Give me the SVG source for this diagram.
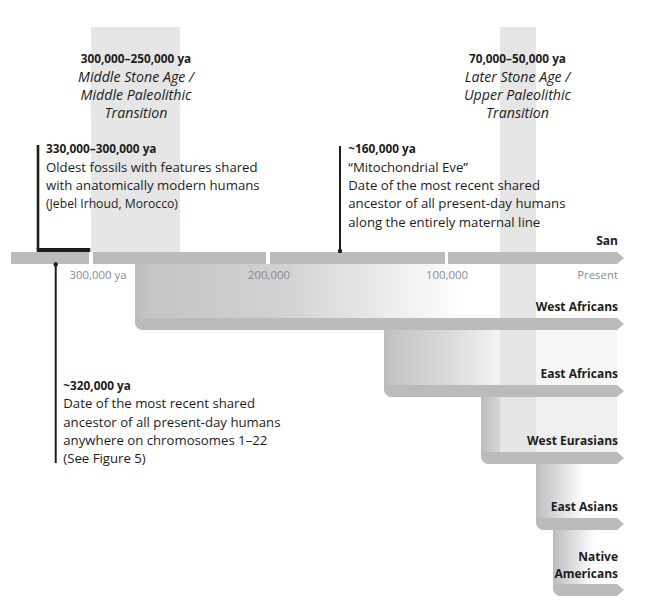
<svg xmlns="http://www.w3.org/2000/svg" width="669" height="610" viewBox="0 0 669 610">
<style>
.t{font-family:"Open Sans","Noto Sans",sans-serif;font-size:13.2px;fill:#1d1d1b}
.b{font-weight:700;font-size:11.8px}
.i{font-style:italic;font-size:14.2px}
.s{font-size:12.2px}
.c{text-anchor:middle}
.lab{font-family:"Open Sans","Noto Sans",sans-serif;font-weight:700;font-size:12px;fill:#1d1d1b;text-anchor:end}
.tick{font-family:"Open Sans","Noto Sans",sans-serif;font-size:11.4px;fill:#8a8a8c}
.bar{fill:#bbbbbd}
.band{fill:#e6e6e7}
.lead{stroke:#1d1d1b;stroke-width:2;fill:none}
.dot{fill:#1d1d1b}
</style>
<defs>
<linearGradient id="gWA" gradientUnits="userSpaceOnUse" x1="135" y1="0" x2="465" y2="0">
<stop offset="0" stop-color="#bcbcbe"/><stop offset="0.04" stop-color="#c4c4c6"/><stop offset="0.45" stop-color="#d2d2d4"/><stop offset="1" stop-color="#ffffff"/>
</linearGradient>
<linearGradient id="gEA" gradientUnits="userSpaceOnUse" x1="384" y1="0" x2="505" y2="0">
<stop offset="0" stop-color="#bcbcbe"/><stop offset="0.08" stop-color="#c6c6c8"/><stop offset="0.5" stop-color="#d8d8da"/><stop offset="1" stop-color="#f6f6f6"/>
</linearGradient>
<linearGradient id="gWE" gradientUnits="userSpaceOnUse" x1="481" y1="0" x2="520" y2="0">
<stop offset="0" stop-color="#bcbcbe"/><stop offset="0.2" stop-color="#c8c8ca"/><stop offset="1" stop-color="#f0f0f0"/>
</linearGradient>
<linearGradient id="gEAs" gradientUnits="userSpaceOnUse" x1="536" y1="0" x2="585" y2="0">
<stop offset="0" stop-color="#bcbcbe"/><stop offset="0.15" stop-color="#c8c8ca"/><stop offset="1" stop-color="#ffffff"/>
</linearGradient>
<linearGradient id="gNA" gradientUnits="userSpaceOnUse" x1="553" y1="0" x2="595" y2="0">
<stop offset="0" stop-color="#bcbcbe"/><stop offset="0.15" stop-color="#c8c8ca"/><stop offset="1" stop-color="#ffffff"/>
</linearGradient>
</defs>

<g id="branch-blocks">
<path d="M135,264 H617 V330 H143 A8,8 0 0 1 135,322 Z" fill="url(#gWA)"/>
<path d="M384,330 H617 V397 H392 A8,8 0 0 1 384,389 Z" fill="url(#gEA)"/>
<path d="M481,397 H617 V464 H489 A8,8 0 0 1 481,456 Z" fill="url(#gWE)"/>
<path d="M536,464 H617 V530 H544 A8,8 0 0 1 536,522 Z" fill="url(#gEAs)"/>
<path d="M553,530 H617 V596 H561 A8,8 0 0 1 553,588 Z" fill="url(#gNA)"/>
</g>

<g id="period-bands">
<rect class="band" x="91" y="27" width="89" height="225"/>
<rect class="band" x="500" y="27" width="36" height="428"/>
</g>

<g id="timeline">
<rect class="bar" x="11" y="252" width="78" height="12"/>
<rect class="bar" x="93" y="252" width="173" height="12"/>
<rect class="bar" x="270" y="252" width="175" height="12"/>
<path class="bar" d="M448,252 H617 L624,258 L617,264 H448 Z"/>
<text class="tick" x="69.5" y="279">300,000 ya</text>
<text class="tick c" x="269" y="279">200,000</text>
<text class="tick c" x="447" y="279">100,000</text>
<text class="tick" x="618" y="279" text-anchor="end">Present</text>
</g>

<g id="node-san">
<text class="lab" x="618" y="245">San</text>
</g>
<g id="node-west-africans">
<path class="bar" d="M135,318 H617 L624,324 L617,330 H143 A8,8 0 0 1 135,322 Z"/>
<text class="lab" x="618" y="311">West Africans</text>
</g>
<g id="node-east-africans">
<path class="bar" d="M384,385 H617 L624,391 L617,397 H392 A8,8 0 0 1 384,389 Z"/>
<text class="lab" x="618" y="377.5">East Africans</text>
</g>
<g id="node-west-eurasians">
<path class="bar" d="M481,452 H617 L624,458 L617,464 H489 A8,8 0 0 1 481,456 Z"/>
<text class="lab" x="618" y="444.5">West Eurasians</text>
</g>
<g id="node-east-asians">
<path class="bar" d="M536,518 H617 L624,524 L617,530 H544 A8,8 0 0 1 536,522 Z"/>
<text class="lab" x="618" y="511">East Asians</text>
</g>
<g id="node-native-americans">
<path class="bar" d="M553,584 H617 L624,590 L617,596 H561 A8,8 0 0 1 553,588 Z"/>
<text class="lab" x="618" y="561">Native</text>
<text class="lab" x="618" y="577.5">Americans</text>
</g>

<g id="connectors">
<path d="M38,145 V250" stroke="#1d1d1b" stroke-width="2.6" fill="none"/>
<rect x="36.7" y="248" width="53.5" height="4" fill="#1d1d1b"/>
<path class="lead" d="M55.7,264 V463"/>
<circle class="dot" cx="55.7" cy="264.5" r="2.2"/>
<path class="lead" d="M340,146 V251"/>
<circle class="dot" cx="340" cy="251" r="2.2"/>
</g>

<g id="note-msa">
<text class="t b c" x="136" y="63.3">300,000–250,000 ya</text>
<text class="t i c" x="136" y="81.7">Middle Stone Age /</text>
<text class="t i c" x="136" y="100">Middle Paleolithic</text>
<text class="t i c" x="136" y="118.3">Transition</text>
</g>

<g id="note-lsa">
<text class="t b c" x="517.5" y="63.3">70,000–50,000 ya</text>
<text class="t i c" x="517.5" y="81.7">Later Stone Age /</text>
<text class="t i c" x="517.5" y="100">Upper Paleolithic</text>
<text class="t i c" x="517.5" y="118.3">Transition</text>
</g>

<g id="note-fossils">
<text class="t b" x="46" y="153.3">330,000–300,000 ya</text>
<text class="t" x="46" y="171.7">Oldest fossils with features shared</text>
<text class="t" x="46" y="190">with anatomically modern humans</text>
<text class="t s" x="46" y="208.3">(Jebel Irhoud, Morocco)</text>
</g>

<g id="note-mito">
<text class="t b" x="348.3" y="153.3">~160,000 ya</text>
<text class="t" x="348.3" y="171.7">“Mitochondrial Eve”</text>
<text class="t" x="348.3" y="190">Date of the most recent shared</text>
<text class="t" x="348.3" y="208.3">ancestor of all present-day humans</text>
<text class="t" x="348.3" y="226.7">along the entirely maternal line</text>
</g>

<g id="note-autosomal">
<text class="t b" x="63.3" y="390">~320,000 ya</text>
<text class="t" x="63.3" y="408.3">Date of the most recent shared</text>
<text class="t" x="63.3" y="426.7">ancestor of all present-day humans</text>
<text class="t" x="63.3" y="445">anywhere on chromosomes 1–22</text>
<text class="t" x="63.3" y="463.3">(See Figure 5)</text>
</g>
</svg>
